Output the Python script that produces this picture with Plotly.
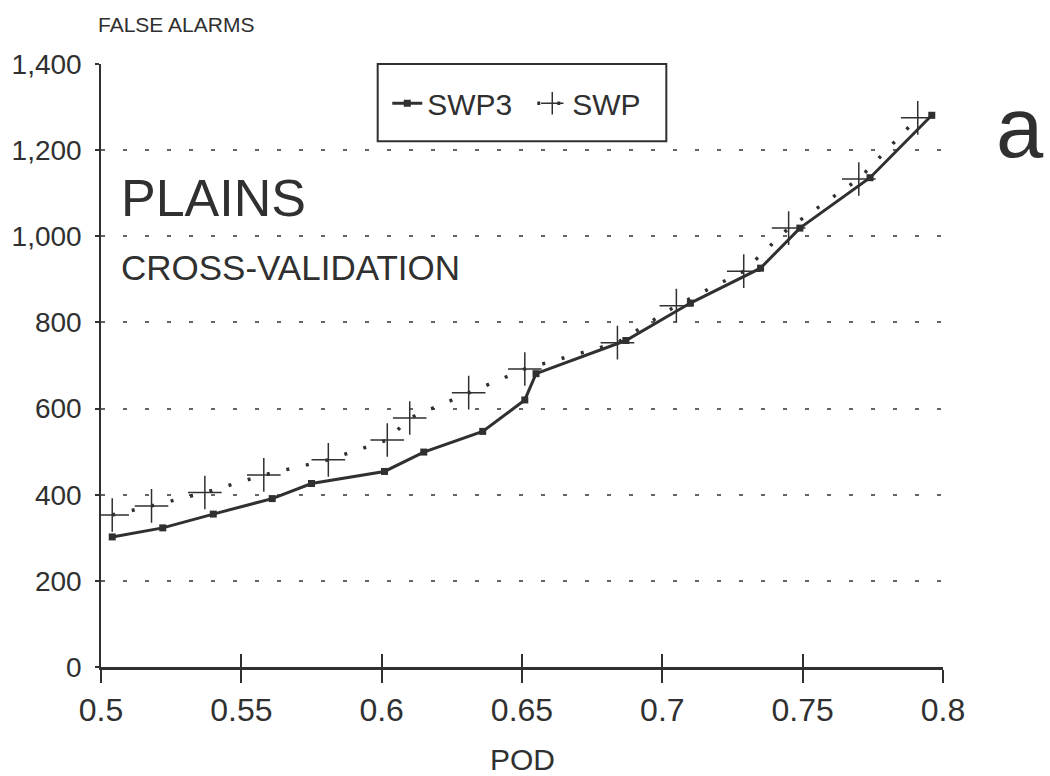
import plotly.graph_objects as go

# Probability of detection vs. false alarms, plains region, cross-validation
swp3_pod = [0.504, 0.522, 0.540, 0.561, 0.575, 0.601, 0.615, 0.636, 0.651, 0.655,
            0.687, 0.710, 0.735, 0.749, 0.774, 0.796]
swp3_fa = [302, 323, 355, 391, 426, 454, 499, 547, 620, 681,
           758, 845, 926, 1019, 1136, 1281]

swp_pod = [0.504, 0.518, 0.537, 0.558, 0.581, 0.602, 0.610, 0.631, 0.651,
           0.684, 0.705, 0.729, 0.745, 0.770, 0.791]
swp_fa = [353, 374, 405, 446, 481, 527, 578, 637, 692,
          753, 839, 919, 1019, 1133, 1275]

x_ticks = [0.5, 0.55, 0.6, 0.65, 0.7, 0.75, 0.8]
x_tick_labels = ["0.5", "0.55", "0.6", "0.65", "0.7", "0.75", "0.8"]
y_ticks = [0, 200, 400, 600, 800, 1000, 1200, 1400]
y_tick_labels = ["0", "200", "400", "600", "800", "1,000", "1,200", "1,400"]

INK = "#303030"
FONT = "Liberation Sans, Arial, Helvetica, sans-serif"

fig = go.Figure()

fig.add_trace(go.Scatter(
    x=swp3_pod, y=swp3_fa, name="SWP3", mode="lines+markers",
    line=dict(color=INK, width=3),
    marker=dict(symbol="square", size=7, color=INK),
))
fig.add_trace(go.Scatter(
    x=swp_pod, y=swp_fa, name="SWP", mode="lines+markers",
    line=dict(color=INK, width=3.5, dash="3px,17px"),
    marker=dict(symbol="cross-thin", size=24, line=dict(color=INK, width=1.5)),
))

# Invisible trace that carries the inner half of the crossing x ticks
fig.add_trace(go.Scatter(x=[0.5], y=[0], xaxis="x2", mode="markers",
                         marker=dict(opacity=0), showlegend=False, hoverinfo="skip"))

fig.update_layout(
    width=1050, height=776,
    margin=dict(l=97, r=107, t=64, b=109),
    paper_bgcolor="white", plot_bgcolor="white",
    font=dict(family=FONT, color=INK, size=28),
    xaxis=dict(
        range=[0.5, 0.8], tickvals=x_ticks, ticktext=x_tick_labels,
        showgrid=False, zeroline=False,
        showline=True, linecolor=INK, linewidth=2.5,
        ticks="outside", ticklen=13, tickwidth=1.5, tickcolor=INK,
        tickfont=dict(size=32, color=INK),
    ),
    xaxis2=dict(
        range=[0.5, 0.8], tickvals=x_ticks, overlaying="x", anchor="y",
        showticklabels=False, showgrid=False, zeroline=False, showline=False,
        ticks="inside", ticklen=13, tickwidth=1.5, tickcolor=INK,
    ),
    yaxis=dict(
        range=[0, 1400], tickvals=y_ticks, ticktext=y_tick_labels,
        showgrid=True, gridcolor="#666666", gridwidth=1.5, griddash="4px,18px",
        zeroline=False,
        showline=True, linecolor=INK, linewidth=1.5,
        ticks="outside", ticklen=4, tickwidth=1.5, tickcolor=INK,
        ticklabelstandoff=8,
        tickfont=dict(size=28, color=INK),
    ),
    showlegend=True,
    legend=dict(
        orientation="h", x=0.34, xanchor="left", y=0.935, yanchor="middle",
        bgcolor="rgba(0,0,0,0)", borderwidth=0, entrywidth=100,
        font=dict(size=30, color=INK),
    ),
    shapes=[
        dict(type="rect", xref="paper", yref="paper",
             x0=0.3286, x1=0.6714, y0=0.872, y1=1.0,
             line=dict(color=INK, width=2), fillcolor="white", layer="below"),
    ],
    annotations=[
        dict(text="FALSE ALARMS", xref="paper", yref="paper", x=-0.006, y=1.065,
             xanchor="left", yanchor="middle", showarrow=False,
             font=dict(size=21, color=INK)),
        dict(text="POD", xref="paper", yref="paper", x=0.5, y=-0.154,
             xanchor="center", yanchor="middle", showarrow=False,
             font=dict(size=30, color=INK)),
        dict(text="PLAINS", xref="paper", yref="paper", x=0.021, y=0.778,
             xanchor="left", yanchor="middle", showarrow=False,
             font=dict(size=52, color=INK)),
        dict(text="CROSS-VALIDATION", xref="paper", yref="paper", x=0.021, y=0.662,
             xanchor="left", yanchor="middle", showarrow=False,
             font=dict(size=35, color=INK)),
        dict(text="a", xref="paper", yref="paper", x=1.091, y=0.895,
             xanchor="center", yanchor="middle", showarrow=False,
             font=dict(size=85, color=INK)),
    ],
)

fig.write_html("out.html")
